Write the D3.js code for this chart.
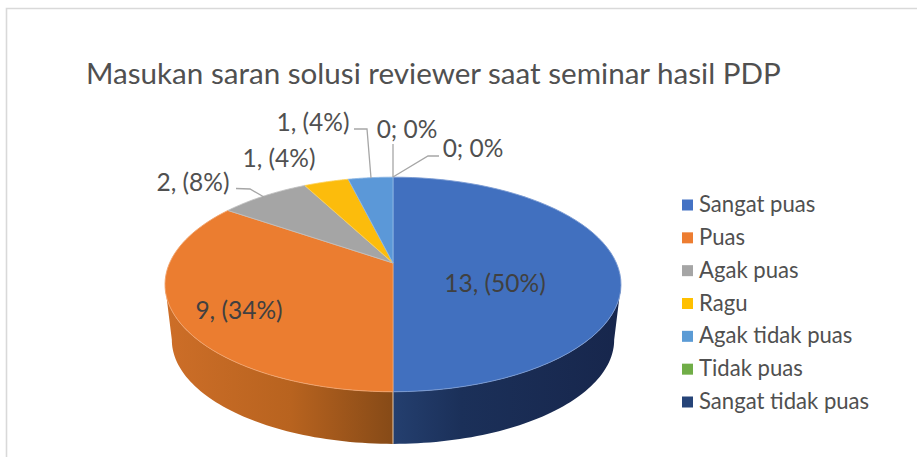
<!DOCTYPE html>
<html><head><meta charset="utf-8">
<script src="https://cdn.jsdelivr.net/npm/d3@7"></script>
<style>html,body{margin:0;padding:0;background:#fff}svg{display:block}text{font-family:Lato,"Open Sans",sans-serif;fill:#505050}</style>
</head><body><svg id="c" width="917" height="457"></svg>
<script>
const chartTitle = "Masukan saran solusi reviewer saat seminar hasil PDP";
const categories = ["Sangat puas","Puas","Agak puas","Ragu","Agak tidak puas","Tidak puas","Sangat tidak puas"];
const values = [13,9,2,1,1,0,0];
const sliceLabels = ["13, (50%)","9, (34%)","2, (8%)","1, (4%)","1, (4%)","0; 0%","0; 0%"];
const colors = ["#4472c4","#ed7d31","#a5a5a5","#ffc000","#5b9bd5","#70ad47","#264478"];
const faceColors = ["#4170bf","#eb7d30","#a5a5a5","#fcbc0c","#5b98d8","#70ad47","#264478"];

const svg = d3.select("#c");
const defs = svg.append("defs");
// frame
svg.append("path").attr("d","M6.5 457V8.5H917").attr("fill","none").attr("stroke","#d9d9d9").attr("stroke-width",1.6);
svg.append("text").attr("x",86).attr("y",84).attr("font-size",29.6).text(chartTitle);

// pie with perspective projection: the far side of the disc is compressed,
// and the lower disc is a little smaller than the upper one
const cx=393, apexY=263, k=0.2, A=223.4, B=103, lowerScale=0.97, lowerApexY=319;
const arcs = d3.pie().value(d=>d).sort(null)(values);
const proj = (a)=>{const X=Math.sin(a),Y=Math.cos(a),w=1+k*Y;return [cx+A*X/w, apexY-B*Y/w];};
const projLow = (a)=>{const X=Math.sin(a),Y=Math.cos(a),w=1+k*Y;return [cx+lowerScale*A*X/w, lowerApexY-lowerScale*B*Y/w];};
const line = d3.line();
const sample=(a0,a1)=>d3.range(0,61).map(i=>a0+(a1-a0)*i/60);

// sides
const aR=Math.acos(-k), aL=2*Math.PI-aR;
const sideStops=[
  [[0,"#243f6f"],[.3,"#1b3059"],[1,"#17264c"]],
  [[0,"#864a17"],[.45,"#b8631f"],[1,"#cd6e28"]]
];
[[0,aR,Math.PI],[1,Math.PI,aL]].forEach(([i,s0,s1])=>{
  const g=defs.append("linearGradient").attr("id","g"+i).attr("gradientUnits","userSpaceOnUse")
    .attr("x1",cx).attr("x2",i===0?cx+228:cx-228).attr("y1",0).attr("y2",0);
  sideStops[i].forEach(s=>g.append("stop").attr("offset",s[0]).attr("stop-color",s[1]));
  const top=sample(s0,s1).map(proj);
  const bot=sample(s0,s1).map(projLow).reverse();
  svg.append("path").attr("d",line(top.concat(bot))+"Z").attr("fill","url(#g"+i+")");
});
svg.append("line").attr("x1",cx).attr("x2",cx).attr("y1",proj(Math.PI)[1]).attr("y2",projLow(Math.PI)[1]).attr("stroke","#e8c9a8").attr("stroke-width",1);

// top faces
arcs.forEach((d,i)=>{
  if(d.endAngle-d.startAngle<=0) return;
  const pts=[[cx,apexY]].concat(sample(d.startAngle,d.endAngle).map(proj));
  svg.append("path").attr("d",line(pts)+"Z").attr("fill",faceColors[i])
    .attr("stroke",d3.interpolateRgb(faceColors[i],"#fff")(0.3)).attr("stroke-width",0.9).attr("stroke-linejoin","round");
});

// labels
const labelPos=[[495,283],[239,310],[193,182],[279,158],[313,122],[407,129],[473,148]];
sliceLabels.forEach((t,i)=>{
  svg.append("text").attr("x",labelPos[i][0]).attr("y",labelPos[i][1]+9).attr("text-anchor","middle")
    .attr("font-size",24.5).style("fill",i<2?"#404040":"#505050").text(t);
});
// leader lines
const leaders=[[[236,188.5],[250,189],[264,197]],[[354,129],[367,129],[371,178]],[[393,144],[393,177]],[[439,156],[428,156],[393,177]]];
leaders.forEach(p=>svg.append("path").attr("d",line(p)).attr("fill","none").attr("stroke","#a6a6a6").attr("stroke-width",1.3));

// legend
const ly=d3.scalePoint().domain(categories).range([205,402]);
categories.forEach((c,i)=>{
  svg.append("rect").attr("x",682).attr("y",ly(c)-5.5).attr("width",11).attr("height",11).attr("fill",colors[i]);
  svg.append("text").attr("x",699).attr("y",ly(c)+7).attr("font-size",22.1).text(c);
});
</script></body></html>
